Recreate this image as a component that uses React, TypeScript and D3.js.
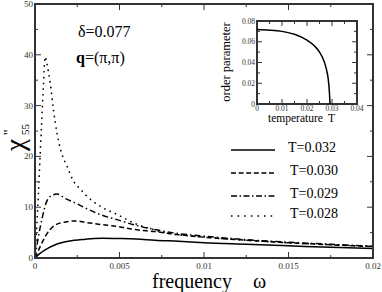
import { useRef, useEffect } from "react";
import * as d3 from "d3";

// main panel: chi''_55 vs frequency
const omegaDotted = [0, 0.0001, 0.0002, 0.0003, 0.0004, 0.0005, 0.0006, 0.0007, 0.0009, 0.0011, 0.0013, 0.0015, 0.0019, 0.0023, 0.0027, 0.003, 0.0039, 0.0049, 0.0059, 0.0071, 0.0078, 0.0098, 0.0125, 0.015, 0.0175, 0.02];
const chiDotted = [0, 6, 12.5, 20, 27, 34, 39.6, 38.3, 34.4, 29, 24.6, 21.5, 18, 15, 13.5, 12.4, 10.1, 8.5, 6.8, 5.5, 4.9, 4.2, 3.5, 3.0, 2.6, 2.3];

const omegaDashDot = [0, 0.0002, 0.0004, 0.00069, 0.00089, 0.0013, 0.0018, 0.0024, 0.003, 0.0039, 0.0049, 0.0059, 0.0071, 0.0085, 0.01, 0.0125, 0.015, 0.0175, 0.02];
const chiDashDot = [0, 4.2, 7.5, 11.1, 12.1, 12.6, 11.7, 10.8, 9.8, 8.5, 7.5, 6.5, 5.6, 4.8, 4.3, 3.6, 3.1, 2.7, 2.3];

const omegaDashed = [0, 0.0003, 0.0006, 0.0012, 0.0018, 0.0024, 0.003, 0.0039, 0.0049, 0.0059, 0.0071, 0.0085, 0.01, 0.0125, 0.015, 0.0175, 0.02];
const chiDashed = [0, 2.2, 4.2, 6.5, 7.1, 7.3, 7.0, 6.6, 6.2, 5.6, 5.2, 4.6, 4.1, 3.5, 3.0, 2.6, 2.25];

const omegaSolid = [0, 0.0003, 0.0006, 0.0012, 0.002, 0.003, 0.0035, 0.004, 0.005, 0.006, 0.0071, 0.0085, 0.01, 0.0125, 0.015, 0.0175, 0.02];
const chiSolid = [0, 0.9, 1.6, 2.6, 3.3, 3.7, 3.85, 3.9, 3.85, 3.75, 3.5, 3.3, 3.0, 2.7, 2.4, 2.1, 1.85];

const legendLabels = ["T=0.032", "T=0.030", "T=0.029", "T=0.028"];
const xTicks = [0, 0.005, 0.01, 0.015, 0.02];
const xTickLabels = ["0", "0.005", "0.01", "0.015", "0.02"];
const yTicks = [0, 10, 20, 30, 40, 50];

// inset: order parameter vs temperature
const tempT = [0, 0.005, 0.01, 0.015, 0.02, 0.023, 0.025, 0.027, 0.028, 0.0285, 0.029, 0.0292];
const orderParam = [0.0718, 0.0712, 0.07, 0.0672, 0.0615, 0.056, 0.05, 0.04, 0.031, 0.024, 0.01, 0];
const insetXTicks = [0, 0.01, 0.02, 0.03, 0.04];
const insetXLabels = ["0", "0.01", "0.02", "0.03", "0.04"];
const insetYTicks = [0, 0.02, 0.04, 0.06, 0.08];
const insetYLabels = ["0", "0.02", "0.04", "0.06", "0.08"];

const FONT = "Liberation Serif, DejaVu Serif, serif";

export default function App() {
  const svgRef = useRef<SVGSVGElement>(null);

  useEffect(() => {
    if (!svgRef.current) return;
    const svg = d3.select(svgRef.current);
    svg.selectAll("*").remove();
    svg.attr("font-family", FONT);

    const L = 35, R = 373, T = 4, B = 258;
    const x = d3.scaleLinear().domain([0, 0.02]).range([L, R]);
    const y = d3.scaleLinear().domain([0, 50]).range([B, T]);
    const frame = "#333";

    // ticks (inward, all four sides)
    const tg = svg.append("g").attr("stroke", frame).attr("stroke-width", 1);
    d3.range(0, 0.02001, 0.0025).forEach((v, i) => {
      const len = i % 2 === 0 ? 6 : 3;
      tg.append("line").attr("x1", x(v)).attr("x2", x(v)).attr("y1", B).attr("y2", B - len);
      tg.append("line").attr("x1", x(v)).attr("x2", x(v)).attr("y1", T).attr("y2", T + len);
    });
    d3.range(0, 50.01, 5).forEach((v, i) => {
      const len = i % 2 === 0 ? 6 : 3;
      tg.append("line").attr("x1", L).attr("x2", L + len).attr("y1", y(v)).attr("y2", y(v));
      tg.append("line").attr("x1", R).attr("x2", R - len).attr("y1", y(v)).attr("y2", y(v));
    });

    // tick labels
    svg.append("g").selectAll("text").data(xTicks).join("text")
      .attr("x", (d) => x(d)).attr("y", B + 11)
      .attr("text-anchor", "middle").attr("font-size", 9).attr("fill", "#333")
      .text((_, i) => xTickLabels[i]);
    svg.append("g").selectAll("text").data(yTicks).join("text")
      .attr("x", L - 2).attr("y", (d) => y(d) + 3)
      .attr("text-anchor", "end").attr("font-size", 9).attr("fill", "#333")
      .text((d) => String(d));

    // curves
    const series = [
      { xs: omegaSolid, ys: chiSolid, dash: null },
      { xs: omegaDashed, ys: chiDashed, dash: "5,3" },
      { xs: omegaDashDot, ys: chiDashDot, dash: "6,3,1.5,3" },
      { xs: omegaDotted, ys: chiDotted, dash: "1.6,4.2" },
    ];
    const line = d3.line<[number, number]>()
      .x((d) => x(d[0])).y((d) => y(d[1]))
      .curve(d3.curveMonotoneX);
    series.forEach((s) => {
      const pts = s.xs.map((v, i) => [v, s.ys[i]] as [number, number]);
      svg.append("path").attr("d", line(pts))
        .attr("fill", "none").attr("stroke", "#000").attr("stroke-width", 1.5)
        .attr("stroke-dasharray", s.dash);
    });

    // frame
    svg.append("rect").attr("x", L).attr("y", T).attr("width", R - L).attr("height", B - T)
      .attr("fill", "none").attr("stroke", frame).attr("stroke-width", 2);

    // legend
    const legY = [150, 173, 196, 216];
    const legDash = [null, "5,2.6", "6,2.5,1.5,2.5", "1.6,5"];
    legendLabels.forEach((lab, i) => {
      svg.append("line").attr("x1", 231).attr("x2", 275).attr("y1", legY[i]).attr("y2", legY[i])
        .attr("stroke", "#000").attr("stroke-width", 1.5).attr("stroke-dasharray", legDash[i]);
      svg.append("text").attr("x", i === 0 ? 288 : 290).attr("y", legY[i] + 2)
        .attr("font-size", 14).text(lab);
    });

    // annotations
    svg.append("text").attr("x", 78).attr("y", 37).attr("font-size", 16).text("δ=0.077");
    const q = svg.append("text").attr("x", 76).attr("y", 63).attr("font-size", 16);
    q.append("tspan").attr("font-weight", "bold").text("q");
    q.append("tspan").text("=(π,π)");

    // axis titles
    const xt = svg.append("text").attr("x", 152).attr("y", 288).attr("font-size", 20);
    xt.append("tspan").text("frequency");
    xt.append("tspan").attr("x", 253).text("ω");

    const yl = svg.append("g").attr("transform", "translate(24,151) rotate(-90)");
    yl.append("text").attr("x", 0).attr("y", 0).attr("font-size", 27).text("χ");
    yl.append("text").attr("x", 16).attr("y", -10).attr("font-size", 15).text("''");
    yl.append("text").attr("x", 16).attr("y", 5).attr("font-size", 11).text("55");

    // inset
    const iL = 257, iR = 357, iT = 21, iB = 104;
    const ix = d3.scaleLinear().domain([0, 0.04]).range([iL, iR]);
    const iy = d3.scaleLinear().domain([0, 0.08]).range([iB, iT]);
    svg.append("rect").attr("x", iL).attr("y", iT).attr("width", iR - iL).attr("height", iB - iT)
      .attr("fill", "#fff").attr("stroke", frame).attr("stroke-width", 2);
    const itg = svg.append("g").attr("stroke", frame).attr("stroke-width", 1);
    d3.range(0, 0.04001, 0.005).forEach((v, i) => {
      const len = i % 2 === 0 ? 5 : 3;
      itg.append("line").attr("x1", ix(v)).attr("x2", ix(v)).attr("y1", iB).attr("y2", iB - len);
      itg.append("line").attr("x1", ix(v)).attr("x2", ix(v)).attr("y1", iT).attr("y2", iT + len);
    });
    d3.range(0, 0.08001, 0.01).forEach((v, i) => {
      const len = i % 2 === 0 ? 5 : 3;
      itg.append("line").attr("x1", iL).attr("x2", iL + len).attr("y1", iy(v)).attr("y2", iy(v));
      itg.append("line").attr("x1", iR).attr("x2", iR - len).attr("y1", iy(v)).attr("y2", iy(v));
    });
    svg.append("g").selectAll("text").data(insetXTicks).join("text")
      .attr("x", (d) => ix(d)).attr("y", iB + 7)
      .attr("text-anchor", "middle").attr("font-size", 7.5).attr("fill", "#333")
      .text((_, i) => insetXLabels[i]);
    svg.append("g").selectAll("text").data(insetYTicks).join("text")
      .attr("x", iL - 2).attr("y", (d) => iy(d) + 2.5)
      .attr("text-anchor", "end").attr("font-size", 7.5).attr("fill", "#333")
      .text((_, i) => insetYLabels[i]);
    const iline = d3.line<[number, number]>()
      .x((d) => ix(d[0])).y((d) => iy(d[1]))
      .curve(d3.curveMonotoneX);
    svg.append("path").attr("d", iline(tempT.map((v, i) => [v, orderParam[i]] as [number, number])))
      .attr("fill", "none").attr("stroke", "#000").attr("stroke-width", 1.5);
    const it = svg.append("text").attr("x", 268).attr("y", 122).attr("font-size", 11.5);
    it.append("tspan").text("temperature");
    it.append("tspan").attr("x", 328).text("T");
    svg.append("text").attr("transform", "translate(230,62) rotate(-90)")
      .attr("text-anchor", "middle").attr("font-size", 12.5)
      .text("order parameter");
  }, []);

  return (
    <svg ref={svgRef} width={382} height={292}
      style={{ position: "absolute", left: 0, top: 0, background: "#fff" }} />
  );
}
